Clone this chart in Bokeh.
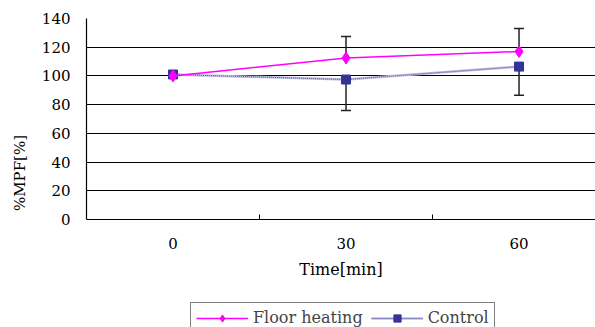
from bokeh.plotting import figure
from bokeh.models import (Range1d, FixedTicker, Whisker, ColumnDataSource, Legend, LegendItem)
from bokeh.embed import file_html
from bokeh.resources import INLINE

times = ["0", "30", "60"]
floor_heating = [100, 112.5, 117]
floor_err_up = [0, 15, 16]
control = [101, 97.5, 106.5]
control_err_down = [0, 21.5, 20]
y_ticks = [0, 20, 40, 60, 80, 100, 120, 140]

FONT = "DejaVu Serif"
xs = list(range(len(times)))

src = ColumnDataSource(dict(
    x=xs, fh=floor_heating, ct=control,
    fh_up=[v + e for v, e in zip(floor_heating, floor_err_up)],
    ct_lo=[v - e for v, e in zip(control, control_err_down)],
))

# frame spans down to the page bottom; the x axis sits at y=0 inside it
p = figure(width=595, height=327, output_backend="svg", toolbar_location=None,
           x_range=Range1d(-0.5, 2.442), y_range=Range1d(-75.2, 140),
           min_border_left=86, min_border_right=0, min_border_top=18, min_border_bottom=0)
p.outline_line_color = None
p.background_fill_color = "white"
p.border_fill_color = "white"

# axes
p.xaxis.fixed_location = 0
p.xaxis.ticker = FixedTicker(ticks=xs, minor_ticks=[0.5, 1.5, 2.5])
p.xaxis.major_label_overrides = {i: t for i, t in zip(xs, times)}
p.xaxis.major_tick_out = 0
p.xaxis.major_tick_in = 0
p.xaxis.minor_tick_in = 5
p.xaxis.minor_tick_out = 0
p.xaxis.minor_tick_line_color = "black"
p.xaxis.major_label_standoff = 18
p.xaxis.axis_label = "Time[min]"
p.xaxis.axis_label_standoff = 8

p.yaxis.bounds = (0, 140)
p.yaxis.ticker = FixedTicker(ticks=y_ticks)
p.yaxis.major_tick_out = 0
p.yaxis.major_tick_in = 0
p.yaxis.minor_tick_out = 0
p.yaxis.minor_tick_in = 0
p.yaxis.major_label_standoff = 16
p.yaxis.axis_label = "%MPF[%]"
p.yaxis.axis_label_standoff = 10

for ax in (p.xaxis, p.yaxis):
    ax.axis_line_color = "black"
    ax.axis_line_width = 1.2
    ax.major_label_text_font = FONT
    ax.major_label_text_font_size = "15px"
    ax.major_label_text_color = "black"
    ax.axis_label_text_font = FONT
    ax.axis_label_text_font_size = "15px"
    ax.axis_label_text_font_style = "normal"
    ax.axis_label_text_color = "black"
p.xaxis.axis_label_text_font_size = "16px"

p.xgrid.grid_line_color = None
p.ygrid.grid_line_color = "black"
p.ygrid.grid_line_width = 1.2

# error bars
w1 = Whisker(source=src, base="x", lower="fh", upper="fh_up", dimension="height",
             line_color="#222222", line_width=1.5, lower_head=None)
w1.upper_head.size = 10
w1.upper_head.line_color = "#222222"
w1.upper_head.line_width = 1.5
w2 = Whisker(source=src, base="x", lower="ct_lo", upper="ct", dimension="height",
             line_color="#222222", line_width=1.5, upper_head=None)
w2.lower_head.size = 10
w2.lower_head.line_color = "#222222"
w2.lower_head.line_width = 1.5
p.add_layout(w1)
p.add_layout(w2)

# control
c1 = p.line("x", "ct", source=src, line_color="#bcbce0", line_width=2.5)
c2 = p.line("x", "ct", source=src, line_color="#5c5caa", line_width=1, line_dash="1 1")
c3 = p.scatter("x", "ct", source=src, marker="square", size=9,
               fill_color="#333399", line_color="#333399")
# floor heating
f1 = p.line("x", "fh", source=src, line_color="#ff00ff", line_width=1.5)
f2 = p.scatter("x", "fh", source=src, marker="diamond", size=12,
               fill_color="#ff00ff", line_color="#ff00ff")

legend = Legend(items=[LegendItem(label="Floor heating", renderers=[f1, f2]),
                       LegendItem(label="Control", renderers=[c1, c2, c3])],
                orientation="horizontal", location=(104, -6))
legend.border_line_color = "black"
legend.border_line_width = 1.2
legend.padding = 5
legend.spacing = 8
legend.glyph_width = 52
legend.glyph_height = 18
legend.label_standoff = 5
legend.label_height = 18
legend.label_text_font = FONT
legend.label_text_font_size = "16px"
legend.margin = 0
legend.background_fill_alpha = 1
p.add_layout(legend, "center")

open("out.html", "w").write(file_html(p, INLINE))
